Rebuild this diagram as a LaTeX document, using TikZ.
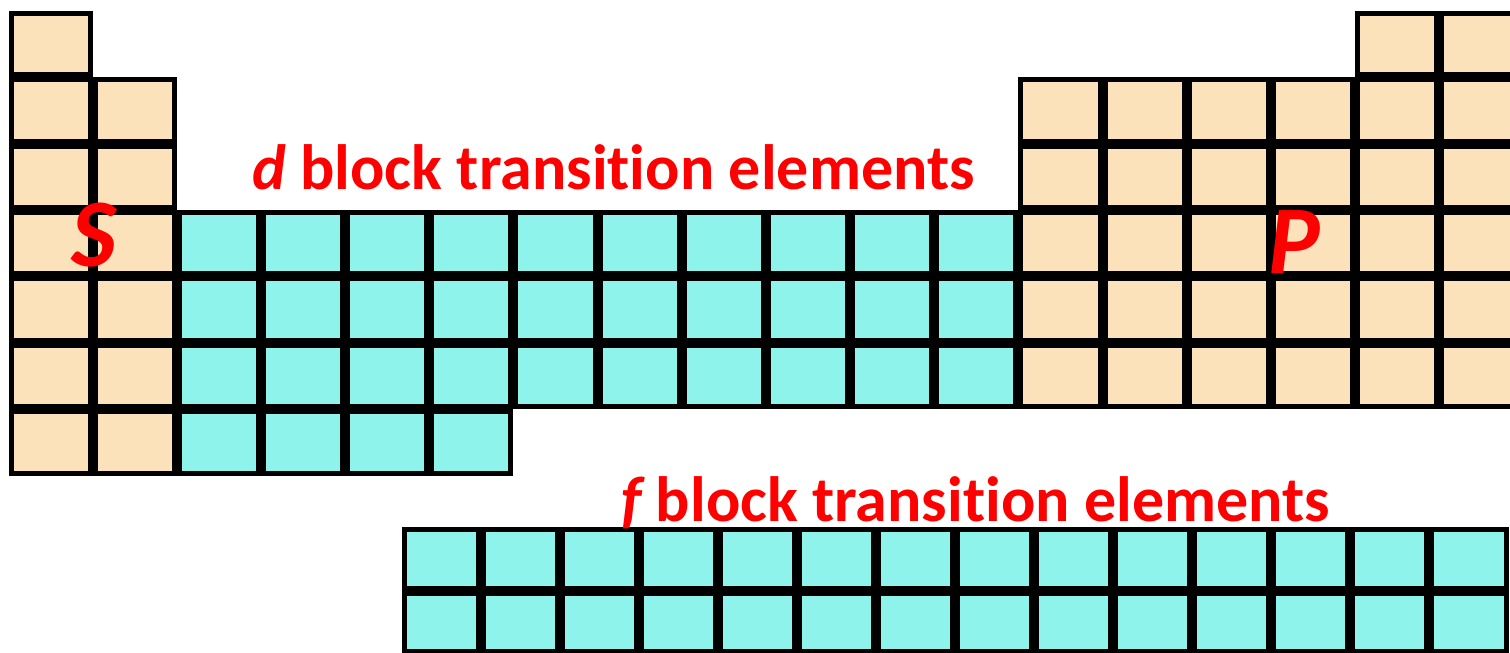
\documentclass[tikz,border=0pt]{standalone}
\usepackage{fontspec}
\newfontfamily\lbl[Ligatures=NoCommon]{Carlito}
\definecolor{sblock}{RGB}{251,226,187}
\definecolor{dblock}{RGB}{142,243,235}
\definecolor{lblred}{RGB}{255,0,0}
\tikzset{
  cellline/.style={draw=black, line width=5pt},
  blocklabel/.style={text=lblred, font=\lbl\bfseries, inner sep=0pt},
  titlelabel/.style={blocklabel, anchor=base west, font=\lbl\bfseries\fontsize{64}{76}\selectfont},
  letterlabel/.style={blocklabel, anchor=base, font=\lbl\bfseries\itshape\fontsize{97}{112}\selectfont},
}
% main table: origin, cell width and height
\def\mx{8.5}\def\mw{84.16}\def\my{10.7}\def\mh{66.4}
% f-block strip
\def\fx{401.7}\def\fw{79.06}\def\fy{526.7}\def\fh{63.8}
% one cell of the main table: #1 column, #2 row, #3 colour
\newcommand\maincell[3]{%
  \fill[#3] ({\mx+(#1-1)*\mw},{\my+(#2-1)*\mh}) rectangle ++(\mw,\mh);
  \draw[cellline] ({\mx+(#1-1)*\mw+2.5},{\my+(#2-1)*\mh+2.5}) rectangle ++({\mw-5},{\mh-5});}
\newcommand\fcell[2]{%
  \fill[dblock] ({\fx+(#1-1)*\fw},{\fy+(#2-1)*\fh}) rectangle ++(\fw,\fh);
  \draw[cellline] ({\fx+(#1-1)*\fw+2.5},{\fy+(#2-1)*\fh+2.5}) rectangle ++({\fw-5},{\fh-5});}
\begin{document}
\begin{tikzpicture}[x=1pt,y=-1pt]
\useasboundingbox (0,0) rectangle (1510,653);
\clip (0,0) rectangle (1510,653);
\fill[white] (0,0) rectangle (1510,653);
% s block
\foreach \r in {1,...,7} {\maincell{1}{\r}{sblock}}
\foreach \r in {2,...,7} {\maincell{2}{\r}{sblock}}
% p block
\foreach \c in {17,18} {\maincell{\c}{1}{sblock}}
\foreach \c in {13,...,18} {\foreach \r in {2,...,6} {\maincell{\c}{\r}{sblock}}}
% d block
\foreach \c in {3,...,12} {\foreach \r in {4,5,6} {\maincell{\c}{\r}{dblock}}}
\foreach \c in {3,...,6} {\maincell{\c}{7}{dblock}}
% f block
\foreach \c in {1,...,14} {\foreach \r in {1,2} {\fcell{\c}{\r}}}
% labels
\node[titlelabel] (dlabel) at (252,189) {\itshape d\upshape{} block transition elements};
\node[titlelabel] (flabel) at (621,521.5) {\itshape f\upshape{} block transition elements};
\node[letterlabel] (slabel) at (94,266) {S};
\node[letterlabel] (plabel) at (1294,273) {P};
\end{tikzpicture}
\end{document}
